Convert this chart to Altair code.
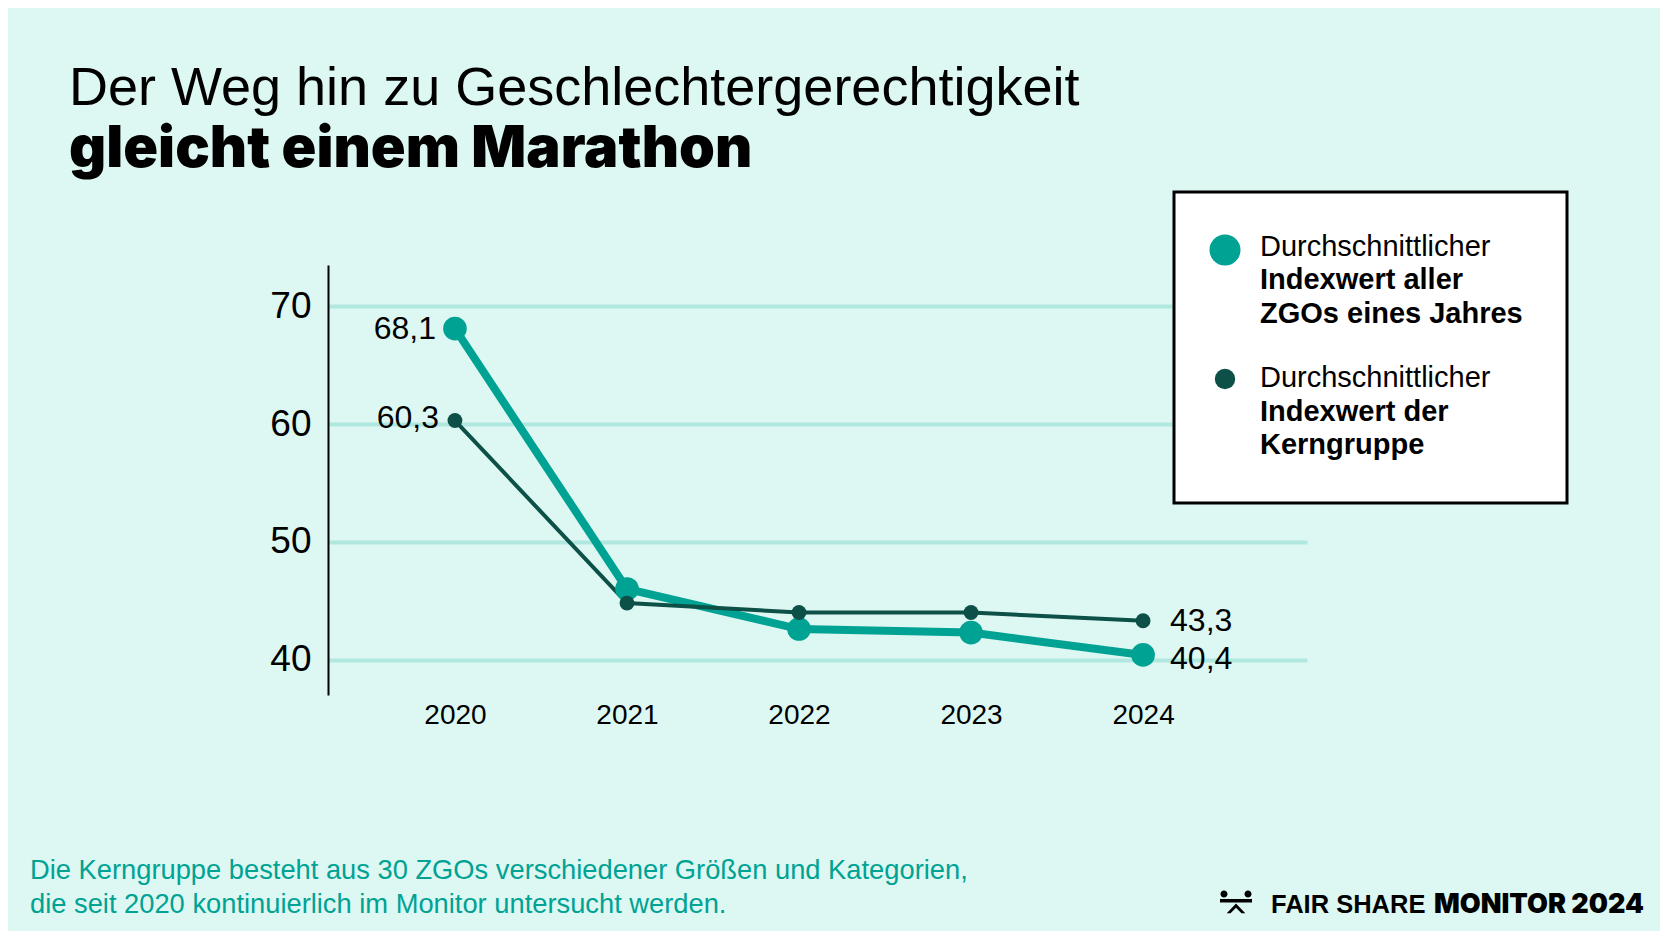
import altair as alt
import pandas as pd

# ---------------- data ----------------
years = [2020, 2021, 2022, 2023, 2024]
all_orgs = [68.1, 46.0, 42.6, 42.3, 40.4]      # Durchschnittlicher Indexwert aller ZGOs eines Jahres
core_group = [60.3, 44.8, 44.0, 44.0, 43.3]    # Durchschnittlicher Indexwert der Kerngruppe
y_ticks = [40, 50, 60, 70]

title_line1 = "Der Weg hin zu Geschlechtergerechtigkeit"
title_line2 = "gleicht einem Marathon"
legend_regular = ["Durchschnittlicher", "Durchschnittlicher"]
legend_bold = [["Indexwert aller", "ZGOs eines Jahres"], ["Indexwert der", "Kerngruppe"]]
footnote = ["Die Kerngruppe besteht aus 30 ZGOs verschiedener Größen und Kategorien,",
            "die seit 2020 kontinuierlich im Monitor untersucht werden."]
brand_light = "FAIR SHARE"
brand_bold = "MONITOR 2024"

TEAL = "#00a294"
DARK = "#0c5048"
BG = "#ddf8f2"
GRID = "#b0e8df"
FONT = "Liberation Sans"

df = pd.DataFrame({
    "year": years * 2,
    "value": all_orgs + core_group,
    "series": ["all"] * len(years) + ["core"] * len(years),
})
df["label"] = df["value"].map(lambda v: f"{v:.1f}".replace(".", ","))

one = pd.DataFrame({"k": [0]})

x_enc = alt.X("year:Q",
              scale=alt.Scale(domain=[2019.262, 2024.953], nice=False, zero=False),
              axis=alt.Axis(values=years, format="d", domain=False, ticks=False, grid=False,
                            labelFont=FONT, labelFontSize=28, labelColor="black",
                            labelPadding=6, title=None))
y_enc = alt.Y("value:Q",
              scale=alt.Scale(domain=[37, 73.5], nice=False, zero=False),
              axis=alt.Axis(values=y_ticks, domain=True, domainColor="black", domainWidth=2,
                            ticks=False, grid=True, gridColor=GRID, gridWidth=4,
                            labelFont=FONT, labelFontSize=37, labelColor="black",
                            labelPadding=17, title=None))

base = alt.Chart(df).encode(x=x_enc, y=y_enc)
all_d = base.transform_filter("datum.series == 'all'")
core_d = base.transform_filter("datum.series == 'core'")

teal_line = all_d.mark_line(color=TEAL, strokeWidth=8)
teal_pts = all_d.mark_circle(color=TEAL, size=560, opacity=1)
dark_line = core_d.mark_line(color=DARK, strokeWidth=4)
dark_pts = core_d.mark_circle(color=DARK, size=220, opacity=1)


def value_label(src, year, align, dx, dy):
    return src.transform_filter(f"datum.year == {year}").mark_text(
        align=align, baseline="middle", dx=dx, dy=dy, font=FONT, fontSize=32, color="black"
    ).encode(text="label:N")


labels = [
    value_label(all_d, 2020, "right", -19, 0),
    value_label(core_d, 2020, "right", -16, -3),
    value_label(all_d, 2024, "left", 27, 4),
    value_label(core_d, 2024, "left", 27, 0),
]

# ---------------- legend box ----------------
box = alt.Chart(one).mark_rect(fill="white", stroke="black", strokeWidth=3).encode(
    x=alt.value(846), x2=alt.value(1239), y=alt.value(-73), y2=alt.value(238))
leg_teal = alt.Chart(one).mark_circle(color=TEAL, size=962, opacity=1).encode(
    x=alt.value(897), y=alt.value(-15))
leg_dark = alt.Chart(one).mark_circle(color=DARK, size=415, opacity=1).encode(
    x=alt.value(897), y=alt.value(114))
leg_txt = []
for i, (y_reg, y_bold) in enumerate([(-9, 24.3), (122.3, 155.7)]):
    leg_txt.append(alt.Chart(one).mark_text(
        align="left", baseline="alphabetic", font=FONT, fontSize=29, color="black"
    ).encode(x=alt.value(932), y=alt.value(y_reg), text=alt.value(legend_regular[i])))
    leg_txt.append(alt.Chart(one).mark_text(
        align="left", baseline="alphabetic", font=FONT, fontSize=29, fontWeight="bold",
        color="black", lineHeight=33.4
    ).encode(x=alt.value(932), y=alt.value(y_bold), text=alt.value(legend_bold[i])))

# ---------------- footnote ----------------
foot = alt.Chart(one).mark_text(
    align="left", baseline="alphabetic", font=FONT, fontSize=27.3, color=TEAL, lineHeight=34
).encode(x=alt.value(-298), y=alt.value(614), text=alt.value(footnote))

# ---------------- brand ----------------
icon_path = ("M -0.97 -0.5 A 0.22 0.22 0 1 0 -0.53 -0.5 A 0.22 0.22 0 1 0 -0.97 -0.5 Z "
             "M 0.53 -0.5 A 0.22 0.22 0 1 0 0.97 -0.5 A 0.22 0.22 0 1 0 0.53 -0.5 Z "
             "M -1 -0.18 L 1 -0.18 L 1 0.03 L -1 0.03 Z "
             "M -0.58 0.7 L 0 0.1 L 0.58 0.7 L 0.34 0.7 L 0 0.36 L -0.34 0.7 Z")
icon = alt.Chart(one).mark_point(shape=icon_path, filled=True, fill="black", size=1024,
                                 opacity=1, strokeWidth=0).encode(
    x=alt.value(908), y=alt.value(637))
brand1 = alt.Chart(one).mark_text(
    align="left", baseline="alphabetic", font=FONT, fontSize=25.5, fontWeight="bold", color="black"
).encode(x=alt.value(943), y=alt.value(648), text=alt.value(brand_light))
brand2 = alt.Chart(one).mark_text(
    align="right", baseline="alphabetic", font="Inter", fontSize=27, fontWeight=900, color="black"
).encode(x=alt.value(1316), y=alt.value(648), text=alt.value(brand_bold))

chart = alt.layer(
    teal_line, dark_line, teal_pts, dark_pts, *labels,
    box, leg_teal, leg_dark, *leg_txt, foot, icon, brand1, brand2
).properties(
    width=979, height=430,
    background=BG,
    padding={"left": 320, "top": 257, "right": 353, "bottom": 236},
    autosize=alt.AutoSizeParams(type="none"),
    title=alt.TitleParams(
        text=title_line1, subtitle=title_line2, anchor="start", frame="group",
        dx=-259, offset=12,
        font=FONT, fontSize=54, fontWeight="normal", color="black",
        subtitleFont="Inter", subtitleFontSize=57.5, subtitleFontWeight=900,
        subtitleColor="black", subtitlePadding=6,
    ),
).configure_view(strokeWidth=0)

chart.save("out.html", embed_options={"renderer": "svg", "actions": False})
